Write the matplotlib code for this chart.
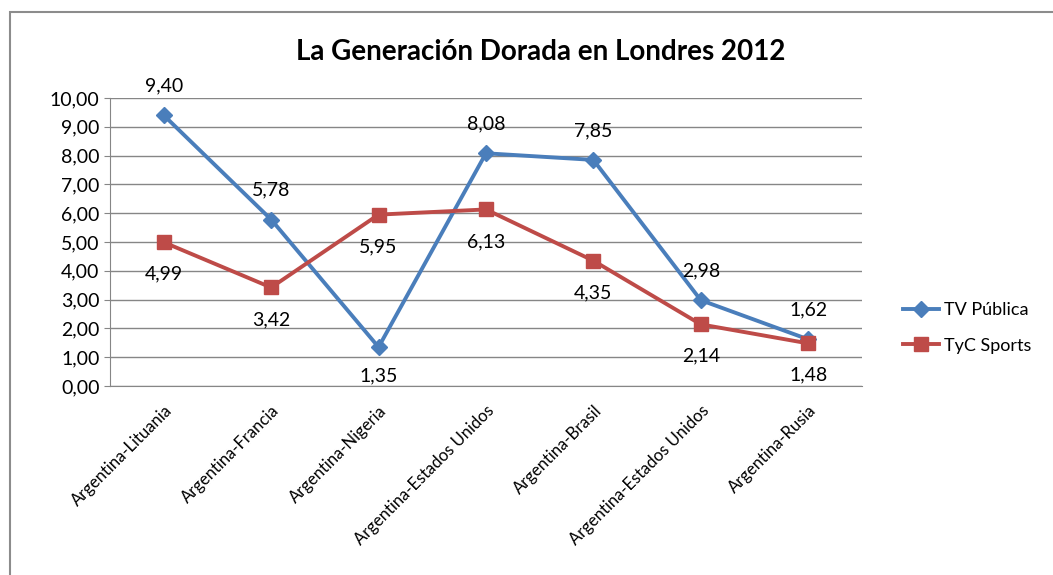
import matplotlib.pyplot as plt
import matplotlib.patches as mpatches
import numpy as np

plt.rcParams['font.family'] = ['Lato', 'DejaVu Sans']

partidos = ["Argentina-Lituania", "Argentina-Francia", "Argentina-Nigeria",
            "Argentina-Estados Unidos", "Argentina-Brasil",
            "Argentina-Estados Unidos", "Argentina-Rusia"]
tv_publica = [9.40, 5.78, 1.35, 8.08, 7.85, 2.98, 1.62]
tyc_sports = [4.99, 3.42, 5.95, 6.13, 4.35, 2.14, 1.48]
# posicion de la etiqueta: 1 arriba, -1 abajo
pos_tv = [1, 1, -1, 1, 1, 1, 1]
pos_tyc = [-1, -1, -1, -1, -1, -1, -1]

fig = plt.figure(figsize=(10.53, 5.75), dpi=100)
fig.patches.append(mpatches.Rectangle((10/1053, -0.2), 1.2, 1.2 - 12/575,
                                      transform=fig.transFigure,
                                      fill=False, edgecolor='#8c8c8c', lw=1.5))
ax = fig.add_axes([0.1045, 0.3287, 0.714, 0.5009])

x = np.arange(len(partidos))
azul = '#4a7ebb'
rojo = '#be4b48'
ax.plot(x, tv_publica, color=azul, lw=2.8, marker='D', ms=8, label='TV Pública')
ax.plot(x, tyc_sports, color=rojo, lw=2.8, marker='s', ms=10, label='TyC Sports')

for xi, v, p in zip(x, tv_publica, pos_tv):
    ax.annotate(f"{v:.2f}".replace('.', ','), (xi, v), xytext=(0, 21 * p),
                textcoords='offset points', ha='center', va='center', fontsize=14)
for xi, v, p in zip(x, tyc_sports, pos_tyc):
    ax.annotate(f"{v:.2f}".replace('.', ','), (xi, v), xytext=(0, 23 * p),
                textcoords='offset points', ha='center', va='center', fontsize=14)

ax.set_xlim(-0.5, len(partidos) - 0.5)
ax.set_ylim(0, 10)
ax.set_yticks(np.arange(0, 11, 1))
ax.set_yticklabels([f"{v:.2f}".replace('.', ',') for v in np.arange(0, 11, 1)], fontsize=14)
ax.set_xticks(x)
ax.set_xticklabels(partidos, rotation=45, ha='right', rotation_mode='anchor', fontsize=12)
ax.tick_params(axis='x', length=0, pad=12)
ax.tick_params(axis='y', length=4, color='#868686')
ax.grid(axis='y', color='#868686', lw=1)
ax.set_axisbelow(True)
for s in ['top', 'right']:
    ax.spines[s].set_visible(False)
for s in ['left', 'bottom']:
    ax.spines[s].set_color('#868686')

fig.text(0.513, 1 - 52/575, "La Generación Dorada en Londres 2012", ha='center', va='center',
         fontsize=20, fontweight='bold')
fig.legend(loc='center left', bbox_to_anchor=(0.842, 0.43), frameon=False, fontsize=13,
           handlelength=2.0, labelspacing=1.1, handletextpad=0.3)

plt.savefig("out.png", dpi=100)
